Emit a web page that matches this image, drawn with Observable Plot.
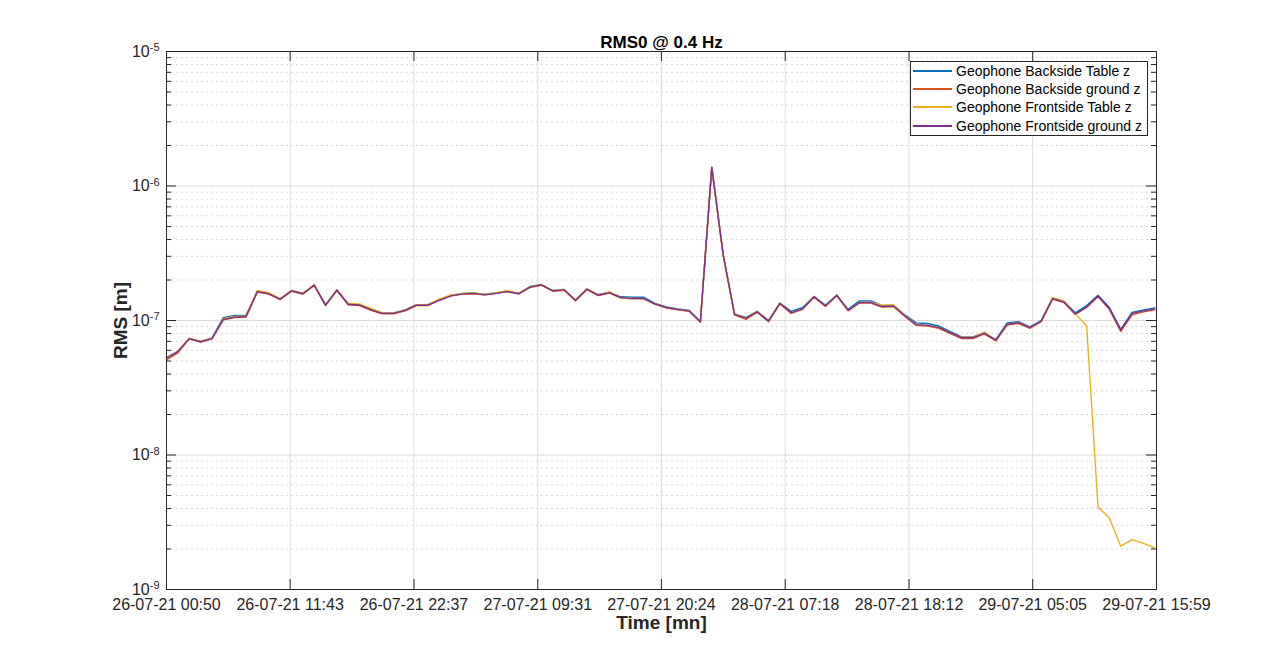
<!DOCTYPE html>
<html>
<head>
<meta charset="utf-8">
<script src="https://cdn.jsdelivr.net/npm/d3@7"></script>
<script src="https://cdn.jsdelivr.net/npm/@observablehq/plot@0.6"></script>
<style>
  html, body { margin: 0; padding: 0; background: #fff; }
  #wrap { position: relative; width: 1276px; height: 663px; font-family: "Liberation Sans", Arial, Helvetica, sans-serif; }
  #legend { position: absolute; left: 910px; top: 61px; width: 238px; height: 75px; border: 1px solid #262626; background: #fff; box-sizing: border-box; }
  .row { position: absolute; left: 0; height: 18px; display: flex; align-items: center; font-size: 14px; color: #000; white-space: nowrap; }
  .row .sw { display: inline-block; width: 39px; height: 2px; margin-left: 2px; margin-right: 4px; }
</style>
</head>
<body>
<div id="wrap"><div id="chart"></div><div id="legend"></div></div>
<script>
// ---- data ----
const seriesNames = [
  "Geophone Backside Table z",
  "Geophone Backside ground z",
  "Geophone Frontside Table z",
  "Geophone Frontside ground z"
];
const seriesColors = ["#0072BD", "#D95319", "#EDB120", "#7E2F8E"];

// hourly samples starting at 26-07-21 00:50
const firstSample = "26-07-21 00:50";
const sampleStepHours = 1;

const xTickLabels = [
  "26-07-21 00:50", "26-07-21 11:43", "26-07-21 22:37", "27-07-21 09:31",
  "27-07-21 20:24", "28-07-21 07:18", "28-07-21 18:12", "29-07-21 05:05",
  "29-07-21 15:59"
];
const yTickValues = [1e-9, 1e-8, 1e-7, 1e-6, 1e-5];

const backsideTable = [
  5.3e-8, 5.9e-8, 7.35e-8, 6.98e-8, 7.4e-8, 1.05e-7, 1.09e-7, 1.09e-7, 1.65e-7, 1.59e-7,
  1.45e-7, 1.67e-7, 1.59e-7, 1.84e-7, 1.31e-7, 1.69e-7, 1.33e-7, 1.31e-7, 1.21e-7, 1.14e-7,
  1.14e-7, 1.2e-7, 1.31e-7, 1.31e-7, 1.42e-7, 1.53e-7, 1.59e-7, 1.6e-7, 1.57e-7, 1.6e-7,
  1.65e-7, 1.59e-7, 1.79e-7, 1.85e-7, 1.67e-7, 1.7e-7, 1.42e-7, 1.72e-7, 1.56e-7, 1.62e-7,
  1.5e-7, 1.49e-7, 1.49e-7, 1.34e-7, 1.26e-7, 1.22e-7, 1.19e-7, 9.85e-8, 1.38e-6, 3.1e-7,
  1.12e-7, 1.05e-7, 1.17e-7, 1.0e-7, 1.35e-7, 1.17e-7, 1.25e-7, 1.51e-7, 1.3e-7, 1.55e-7,
  1.21e-7, 1.4e-7, 1.4e-7, 1.29e-7, 1.3e-7, 1.1e-7, 9.6e-8, 9.5e-8, 9.1e-8, 8.25e-8,
  7.55e-8, 7.55e-8, 8.1e-8, 7.2e-8, 9.6e-8, 9.8e-8, 8.95e-8, 1.0e-7, 1.47e-7, 1.39e-7,
  1.14e-7, 1.29e-7, 1.54e-7, 1.25e-7, 8.6e-8, 1.15e-7, 1.2e-7, 1.24e-7
];
const backsideGround = [
  5.1e-8, 5.75e-8, 7.3e-8, 6.9e-8, 7.3e-8, 1.01e-7, 1.05e-7, 1.06e-7, 1.63e-7, 1.57e-7,
  1.43e-7, 1.65e-7, 1.57e-7, 1.82e-7, 1.29e-7, 1.67e-7, 1.31e-7, 1.29e-7, 1.19e-7, 1.12e-7,
  1.12e-7, 1.18e-7, 1.29e-7, 1.29e-7, 1.42e-7, 1.53e-7, 1.57e-7, 1.58e-7, 1.55e-7, 1.59e-7,
  1.65e-7, 1.58e-7, 1.76e-7, 1.83e-7, 1.65e-7, 1.68e-7, 1.4e-7, 1.7e-7, 1.53e-7, 1.6e-7,
  1.47e-7, 1.45e-7, 1.45e-7, 1.32e-7, 1.24e-7, 1.2e-7, 1.17e-7, 9.7e-8, 1.37e-6, 3.08e-7,
  1.1e-7, 1.02e-7, 1.15e-7, 9.8e-8, 1.33e-7, 1.13e-7, 1.21e-7, 1.49e-7, 1.27e-7, 1.53e-7,
  1.18e-7, 1.35e-7, 1.35e-7, 1.26e-7, 1.27e-7, 1.07e-7, 9.2e-8, 9.1e-8, 8.75e-8, 8.0e-8,
  7.35e-8, 7.35e-8, 7.95e-8, 7.05e-8, 9.25e-8, 9.5e-8, 8.75e-8, 9.8e-8, 1.44e-7, 1.36e-7,
  1.11e-7, 1.25e-7, 1.51e-7, 1.21e-7, 8.3e-8, 1.1e-7, 1.16e-7, 1.2e-7
];
const frontsideTable = [
  5.25e-8, 5.88e-8, 7.4e-8, 7.0e-8, 7.35e-8, 1.03e-7, 1.07e-7, 1.08e-7, 1.67e-7, 1.61e-7,
  1.45e-7, 1.67e-7, 1.59e-7, 1.84e-7, 1.31e-7, 1.69e-7, 1.34e-7, 1.33e-7, 1.23e-7, 1.14e-7,
  1.14e-7, 1.2e-7, 1.31e-7, 1.31e-7, 1.44e-7, 1.55e-7, 1.58e-7, 1.6e-7, 1.56e-7, 1.6e-7,
  1.67e-7, 1.59e-7, 1.78e-7, 1.85e-7, 1.67e-7, 1.7e-7, 1.42e-7, 1.72e-7, 1.55e-7, 1.63e-7,
  1.48e-7, 1.46e-7, 1.46e-7, 1.33e-7, 1.25e-7, 1.21e-7, 1.18e-7, 9.8e-8, 1.38e-6, 3.1e-7,
  1.12e-7, 1.04e-7, 1.17e-7, 9.9e-8, 1.35e-7, 1.14e-7, 1.22e-7, 1.51e-7, 1.28e-7, 1.55e-7,
  1.19e-7, 1.36e-7, 1.36e-7, 1.3e-7, 1.31e-7, 1.09e-7, 9.3e-8, 9.2e-8, 8.85e-8, 8.11e-8,
  7.5e-8, 7.5e-8, 8.2e-8, 7.13e-8, 9.4e-8, 9.7e-8, 8.85e-8, 9.9e-8, 1.48e-7, 1.39e-7,
  1.12e-7, 9.1e-8, 4.1e-9, 3.4e-9, 2.1e-9, 2.35e-9, 2.2e-9, 2.04e-9
];
const frontsideGround = [
  5.24e-8, 5.86e-8, 7.33e-8, 6.95e-8, 7.33e-8, 1.02e-7, 1.06e-7, 1.07e-7, 1.64e-7, 1.58e-7,
  1.44e-7, 1.66e-7, 1.58e-7, 1.83e-7, 1.3e-7, 1.68e-7, 1.32e-7, 1.3e-7, 1.2e-7, 1.13e-7,
  1.13e-7, 1.19e-7, 1.3e-7, 1.3e-7, 1.41e-7, 1.52e-7, 1.57e-7, 1.59e-7, 1.55e-7, 1.59e-7,
  1.64e-7, 1.58e-7, 1.77e-7, 1.84e-7, 1.66e-7, 1.69e-7, 1.41e-7, 1.71e-7, 1.54e-7, 1.61e-7,
  1.48e-7, 1.46e-7, 1.46e-7, 1.33e-7, 1.25e-7, 1.21e-7, 1.18e-7, 9.8e-8, 1.38e-6, 3.1e-7,
  1.11e-7, 1.04e-7, 1.16e-7, 9.9e-8, 1.34e-7, 1.14e-7, 1.22e-7, 1.5e-7, 1.28e-7, 1.54e-7,
  1.19e-7, 1.36e-7, 1.36e-7, 1.27e-7, 1.28e-7, 1.08e-7, 9.3e-8, 9.2e-8, 8.85e-8, 8.11e-8,
  7.45e-8, 7.45e-8, 8.03e-8, 7.13e-8, 9.37e-8, 9.63e-8, 8.85e-8, 9.9e-8, 1.45e-7, 1.37e-7,
  1.12e-7, 1.26e-7, 1.52e-7, 1.23e-7, 8.5e-8, 1.13e-7, 1.18e-7, 1.22e-7
];
const seriesValues = [backsideTable, backsideGround, frontsideTable, frontsideGround];

// ---- build ----
const parse = d3.utcParse("%d-%m-%y %H:%M");
const fmt = d3.utcFormat("%d-%m-%y %H:%M");
const t0 = parse(firstSample);
const xTicks = xTickLabels.map(parse);
const rows = [];
seriesValues.forEach((vals, s) => vals.forEach((v, i) => rows.push({
  t: new Date(+t0 + i * sampleStepHours * 3600e3), v, s: seriesNames[s]
})));

const minorY = [];
for (let k = -9; k < -5; k++) for (let m = 2; m <= 9; m++) minorY.push(m * Math.pow(10, k));

const W = 1276, H = 663, mL = 166, mR = 120, mT = 51, mB = 74;
const fw = W - mL - mR, fh = H - mT - mB;
const axisColor = "#262626";
const inner = xTicks.slice(1, -1);

const chart = Plot.plot({
  width: W, height: H,
  marginLeft: mL, marginRight: mR, marginTop: mT, marginBottom: mB,
  style: { fontFamily: '"Liberation Sans", Arial, Helvetica, sans-serif', fontSize: "16px", color: axisColor, background: "#fff" },
  x: { type: "utc", domain: [xTicks[0], xTicks[xTicks.length - 1]] },
  y: { type: "log", domain: [1e-9, 1e-5] },
  color: { domain: seriesNames, range: seriesColors },
  marks: [
    Plot.gridY(minorY, { stroke: "#d8d8d8", strokeOpacity: 1, strokeDasharray: "2,3" }),
    Plot.gridY(yTickValues, { stroke: "#dcdcdc", strokeOpacity: 1 }),
    Plot.gridX(inner, { stroke: "#dcdcdc", strokeOpacity: 1 }),
    Plot.line(rows, { x: "t", y: "v", stroke: "s", z: "s", strokeWidth: 1.4 }),
    Plot.frame({ stroke: axisColor }),
    // inward ticks (bottom, top)
    Plot.ruleX(inner, { x: d => d, insetTop: fh - 10, stroke: axisColor }),
    Plot.ruleX(inner, { x: d => d, insetBottom: fh - 10, stroke: axisColor }),
    // y major/minor inward ticks (left, right)
    Plot.ruleY(yTickValues, { y: d => d, insetRight: fw - 10, stroke: axisColor }),
    Plot.ruleY(yTickValues, { y: d => d, insetLeft: fw - 10, stroke: axisColor }),
    Plot.ruleY(minorY, { y: d => d, insetRight: fw - 5, stroke: axisColor }),
    Plot.ruleY(minorY, { y: d => d, insetLeft: fw - 5, stroke: axisColor }),
    Plot.axisX({ ticks: xTicks, tickFormat: fmt, tickSize: 0, tickPadding: 9, label: null, fontSize: 16, fill: axisColor }),
    Plot.axisY({ ticks: yTickValues, tickFormat: d => "10^" + Math.round(Math.log10(d)), tickSize: 0, tickPadding: 7, label: null, fontSize: 16, fill: axisColor }),
    Plot.text(["RMS0 @ 0.4 Hz"], { text: d => d, frameAnchor: "top", textAnchor: "middle", dy: -16, fontWeight: "bold", fontSize: 17, fill: "#000" }),
    Plot.text(["Time [mn]"], { text: d => d, frameAnchor: "bottom", textAnchor: "middle", dy: 39, fontWeight: "bold", fontSize: 19, fill: axisColor }),
    Plot.text(["RMS [m]"], { text: d => d, frameAnchor: "left", textAnchor: "middle", dx: -46, rotate: -90, fontWeight: "bold", fontSize: 19, fill: axisColor })
  ]
});
document.getElementById("chart").appendChild(chart);

// superscript exponents on y tick labels
chart.querySelectorAll('g[aria-label="y-axis tick label"] text').forEach(t => {
  const s = t.textContent;
  if (s.startsWith("10^")) {
    const e = s.slice(3);
    t.textContent = "10";
    const sp = document.createElementNS("http://www.w3.org/2000/svg", "tspan");
    sp.setAttribute("dy", "-0.5em");
    sp.setAttribute("font-size", "11px");
    sp.textContent = e;
    t.appendChild(sp);
  }
});

// legend
const leg = document.getElementById("legend");
seriesNames.forEach((n, i) => {
  const r = document.createElement("div");
  r.className = "row";
  r.style.top = (i * 18.2) + "px";
  const sw = document.createElement("span");
  sw.className = "sw";
  sw.style.background = seriesColors[i];
  const tx = document.createElement("span");
  tx.textContent = n;
  r.appendChild(sw); r.appendChild(tx);
  leg.appendChild(r);
});
</script>
</body>
</html>
